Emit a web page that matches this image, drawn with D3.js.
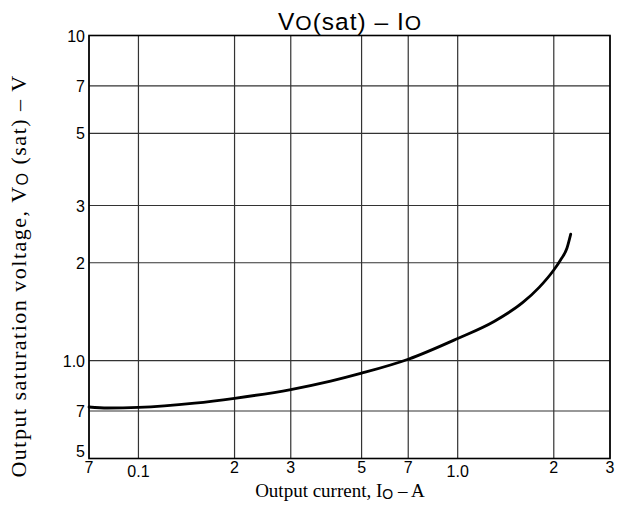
<!DOCTYPE html>
<html lang="en">

<head>
    <meta charset="UTF-8">
    <script src="https://d3js.org/d3.v7.min.js"></script>
    <title>vo_sat_io</title>
    <style>
        body { margin: 0; background: #fff; }
        .tick { font-family: "Liberation Sans", Arial, sans-serif; font-size: 16px; fill: #000; }
        .lab { font-family: "Liberation Serif", "Times New Roman", serif; font-size: 19px; fill: #000; }
    </style>
</head>

<body>
    <script>
        // curve: output current (A) vs saturation voltage (V)
        var current = [0.07, 0.08, 0.1, 0.15, 0.2, 0.3, 0.4, 0.5, 0.7, 1.0, 1.3, 1.6, 1.8, 2.0, 2.1, 2.2, 2.26];
        var voltage = [0.72, 0.715, 0.718, 0.74, 0.766, 0.815, 0.865, 0.915, 1.01, 1.17, 1.32, 1.51, 1.68, 1.9, 2.04, 2.22, 2.45];

        var xTicks = [0.07, 0.1, 0.2, 0.3, 0.5, 0.7, 1.0, 2, 3];
        var xTickText = ["7", "0.1", "2", "3", "5", "7", "1.0", "2", "3"];
        var yTicks = [0.5, 0.7, 1.0, 2, 3, 5, 7, 10];
        var yTickText = ["5", "7", "1.0", "2", "3", "5", "7", "10"];

        var w = 623,
            h = 511;
        var m = { left: 89, right: 13, top: 35.5, bottom: 52.5 };

        var svg = d3.select("body").append("svg").attr("width", w).attr("height", h);

        var x = d3.scaleLog().domain([0.07, 3]).range([m.left, w - m.right]);
        var y = d3.scaleLog().domain([0.5, 10]).range([h - m.bottom, m.top]);

        // grid
        svg.append("g").selectAll("line.v").data(xTicks).enter().append("line")
            .attr("x1", d => x(d)).attr("x2", d => x(d))
            .attr("y1", m.top).attr("y2", h - m.bottom)
            .attr("stroke", "#333").attr("stroke-width", 1.2);
        svg.append("g").selectAll("line.h").data(yTicks).enter().append("line")
            .attr("x1", m.left).attr("x2", w - m.right)
            .attr("y1", d => y(d)).attr("y2", d => y(d))
            .attr("stroke", "#333").attr("stroke-width", 1.2);

        // frame
        svg.append("rect")
            .attr("x", m.left).attr("y", m.top)
            .attr("width", w - m.left - m.right).attr("height", h - m.top - m.bottom)
            .attr("fill", "none").attr("stroke", "#000").attr("stroke-width", 1.6);

        // x tick labels (decimal ones sit a bit lower)
        svg.append("g").selectAll("text").data(xTicks).enter().append("text")
            .attr("class", "tick")
            .attr("x", d => x(d))
            .attr("y", (d, i) => xTickText[i].indexOf(".") >= 0 ? 477 : 473)
            .attr("text-anchor", "middle")
            .text((d, i) => xTickText[i]);

        // y tick labels
        svg.append("g").selectAll("text").data(yTicks).enter().append("text")
            .attr("class", "tick")
            .attr("x", m.left - 4)
            .attr("y", (d, i) => i == 0 ? y(d) - 2 : y(d) + 6)
            .attr("text-anchor", "end")
            .text((d, i) => yTickText[i]);

        // curve
        var line = d3.line()
            .x((d, i) => x(current[i]))
            .y(d => y(d))
            .curve(d3.curveMonotoneX);
        svg.append("path").datum(voltage)
            .attr("d", line)
            .attr("fill", "none").attr("stroke", "#000").attr("stroke-width", 2.8)
            .attr("stroke-linecap", "round");

        // title
        var t = svg.append("text").attr("class", "tick").attr("x", 350).attr("y", 30)
            .attr("text-anchor", "middle").style("font-size", "24.5px").style("letter-spacing", "1px");
        t.append("tspan").text("V");
        t.append("tspan").style("font-size", "21px").text("O");
        t.append("tspan").text("(sat) – I");
        t.append("tspan").style("font-size", "21px").text("O");

        // x label
        var xl = svg.append("text").attr("class", "lab").attr("x", 340).attr("y", 497)
            .attr("text-anchor", "middle");
        xl.append("tspan").text("Output current, I");
        xl.append("tspan").style("font-family", "Liberation Sans").style("font-size", "14px").attr("dy", 2).text("O");
        xl.append("tspan").attr("dy", -2).text(" – A");

        // y label
        var yl = svg.append("text").attr("class", "lab")
            .attr("transform", "translate(26," + 276 + ") rotate(-90)")
            .attr("text-anchor", "middle")
            .style("font-size", "22px").style("letter-spacing", "1.5px");
        yl.append("tspan").text("Output saturation voltage, V");
        yl.append("tspan").style("font-family", "Liberation Sans").style("font-size", "16px").attr("dy", 2).text("O");
        yl.append("tspan").attr("dy", -2).text(" (sat) – V");
    </script>
</body>

</html>
